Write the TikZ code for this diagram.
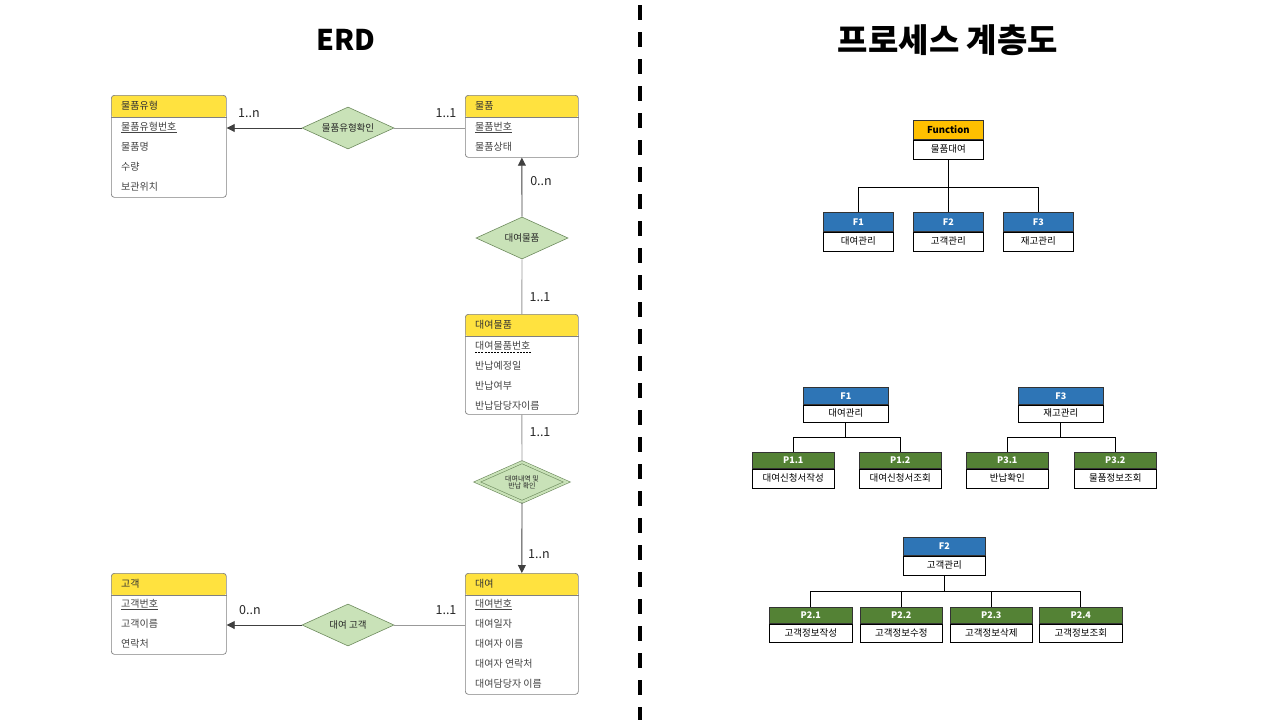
\documentclass[tikz,border=0pt]{standalone}
\usepackage{fontspec}
\setmainfont{Noto Sans CJK KR}
\usetikzlibrary{shapes.geometric,arrows.meta,calc}
\definecolor{hdr}{HTML}{FFE23F}
\definecolor{ebd}{HTML}{808080}
\definecolor{etx}{HTML}{444444}
\definecolor{lin}{HTML}{999999}
\definecolor{arc}{HTML}{404040}
\definecolor{relf}{HTML}{C9E2B8}
\definecolor{relb}{HTML}{6E8B5E}
\definecolor{fnc}{HTML}{FFC000}
\definecolor{blu}{HTML}{2E75B6}
\definecolor{grn}{HTML}{548235}
\newcommand\entity[6]{%
  \node[ebox, minimum width=#4pt, minimum height=#5pt, anchor=north west] (#1) at (#2,#3) {};
  \draw[ebd, line width=0.7pt] ([yshift=-22pt]#1.north west) -- ([yshift=-22pt]#1.north east);
  \node[etext, text=black!80, anchor=west] (#1-hd) at ([xshift=10pt,yshift=-11pt]#1.north west) {#6};
}
\newcommand\erow[4]{%
  \node[etext, anchor=west] (#1) at ([xshift=10pt,yshift=-#3pt]#2.north west) {#4};
}
\newcommand\pbox[9]{%
  \node[phead, #7, minimum width=#4pt, minimum height=#5pt, anchor=north west] (#1h) at (#2,#3) {#8};
  \node[pbody, minimum width=#4pt, minimum height=#6pt, anchor=north] (#1) at (#1h.south) {#9};
}
\tikzset{
  ebox/.style={draw=ebd, line width=0.7pt, rounded corners=3pt, inner sep=0pt,
    path picture={\fill[hdr] (path picture bounding box.north west) rectangle ([yshift=-22pt]path picture bounding box.north east);}},
  etext/.style={font=\fontsize{10}{11}\selectfont, text=etx, inner xsep=0pt, inner ysep=1pt},
  card/.style={font=\fontsize{12.5}{14}\selectfont, text=black!85, inner sep=0pt},
  rel/.style={diamond, draw=relb, fill=relf, line width=0.6pt, inner sep=0pt, aspect=2.2,
    minimum width=92pt, minimum height=42pt, font=\fontsize{9.5}{10}\selectfont, text=black!85},
  conn/.style={draw=lin, line width=0.9pt},
  arr/.style={-{Triangle[length=8pt,width=8pt]}, arc},
  phead/.style={draw=black!80, line width=0.6pt, inner sep=0pt, text=white, font=\bfseries\fontsize{9}{10}\selectfont},
  pbody/.style={draw=black, line width=0.6pt, fill=white, inner sep=0pt, font=\fontsize{9.5}{10}\selectfont},
  tree/.style={draw=black, line width=0.9pt},
  ttl/.style={font=\bfseries\fontsize{28.5}{32}\selectfont}
}
\begin{document}
\begin{tikzpicture}[x=1pt,y=-1pt]
\path[use as bounding box, fill=white] (0,0) rectangle (1280,720);
% titles
\node[ttl] (t1) at (346,40) {ERD};
\node[ttl, font=\bfseries\fontsize{33}{36}\selectfont] (t2) at (948,40) {프로세스 계층도};
% divider
\draw[line width=3.5pt, dash pattern=on 15pt off 12pt] (640,5) -- (640,720);
% ===== ERD entities =====
\entity{mpt}{111}{95}{115}{102}{물품유형}
\erow{a1}{mpt}{32}{물품유형번호}
\erow{a2}{mpt}{52}{물품명}
\erow{a3}{mpt}{72}{수량}
\erow{a4}{mpt}{92}{보관위치}
\draw[etx, line width=0.6pt] ([yshift=-2pt]a1.base west) -- ([yshift=-2pt]a1.base east);
\entity{mp}{465}{95}{113}{62}{물품}
\erow{b1}{mp}{32}{물품번호}
\erow{b2}{mp}{52}{물품상태}
\draw[etx, line width=0.6pt] ([yshift=-2pt]b1.base west) -- ([yshift=-2pt]b1.base east);
\entity{dm}{465}{314}{113}{100}{대여물품}
\erow{c1}{dm}{32}{대여물품번호}
\erow{c2}{dm}{52}{반납예정일}
\erow{c3}{dm}{72}{반납여부}
\erow{c4}{dm}{92}{반납담당자이름}
\draw[black, line width=0.7pt, dash pattern=on 2pt off 1.2pt] ([yshift=-2.5pt]c1.base west) -- ([yshift=-2.5pt]c1.base east);
\entity{cu}{111}{573}{115}{81}{고객}
\erow{d1}{cu}{31}{고객번호}
\erow{d2}{cu}{51}{고객이름}
\erow{d3}{cu}{71}{연락처}
\draw[etx, line width=0.6pt] ([yshift=-2pt]d1.base west) -- ([yshift=-2pt]d1.base east);
\entity{dy}{465}{573}{113}{121}{대여}
\erow{e1}{dy}{31}{대여번호}
\erow{e2}{dy}{51}{대여일자}
\erow{e3}{dy}{71}{대여자 이름}
\erow{e4}{dy}{91}{대여자 연락처}
\erow{e5}{dy}{111}{대여담당자 이름}
\draw[etx, line width=0.6pt] ([yshift=-2pt]e1.base west) -- ([yshift=-2pt]e1.base east);
% relationships
\node[rel] (r1) at (348,128) {물품유형확인};
\node[rel] (r2) at (522,238) {대여물품};
\node[rel, minimum width=90pt, minimum height=40pt, double=relf, double distance=2.2pt, font=\fontsize{7}{8}\selectfont, align=center] (r3) at (522,482) {대여내역 및\\[-1pt]반납 확인};
\node[rel] (r4) at (348,625) {대여 고객};
% connectors
\draw[conn] (mp.west |- r1) -- (r1.east);
\draw[conn, arr] (r1.west) -- (r1 -| mpt.east);
\draw[conn] (dm.north) -- (r2.south);
\draw[conn, arr] (r2.north) -- (mp.south);
\draw[conn] (dm.south) -- (r3.north);
\draw[conn, arr] (r3.south) -- (dy.north);
\draw[conn] (dy.west |- r4) -- (r4.east);
\draw[conn, arr] (r4.west) -- (r4 -| cu.east);
% cardinalities
\node[card] (k1) at (249,113) {1..n};
\node[card] (k2) at (446,113) {1..1};
\node[card] (k3) at (541,181) {0..n};
\node[card] (k4) at (540,297) {1..1};
\node[card] (k5) at (540,432) {1..1};
\node[card] (k6) at (539,554) {1..n};
\node[card] (k7) at (250,610) {0..n};
\node[card] (k8) at (446,610) {1..1};
% ===== hierarchy =====
\pbox{fn}{913}{120}{70}{19}{19}{fill=fnc, text=black, font=\bfseries\fontsize{9.5}{10}\selectfont}{Function}{물품대여}
\pbox{f1}{823}{212}{70}{19}{19}{fill=blu}{F1}{대여관리}
\pbox{f2}{913}{212}{70}{19}{19}{fill=blu}{F2}{고객관리}
\pbox{f3}{1003}{212}{70}{19}{19}{fill=blu}{F3}{재고관리}
\draw[tree] (fn.south) -- ++(0,28) coordinate (j0);
\draw[tree] (f1h.north) |- (j0) -| (f3h.north);
\draw[tree] (j0) -- (f2h.north);
% F1 / F3 subtrees
\pbox{s1}{803}{387}{85}{17}{17}{fill=blu}{F1}{대여관리}
\pbox{s3}{1018}{387}{85}{17}{17}{fill=blu}{F3}{재고관리}
\pbox{p11}{752}{452}{82}{16}{19}{fill=grn}{P1.1}{대여신청서작성}
\pbox{p12}{859}{452}{82}{16}{19}{fill=grn}{P1.2}{대여신청서조회}
\pbox{p31}{966}{452}{82}{16}{19}{fill=grn}{P3.1}{반납확인}
\pbox{p32}{1074}{452}{82}{16}{19}{fill=grn}{P3.2}{물품정보조회}
\draw[tree] (s1.south) -- ++(0,15) coordinate (j1);
\draw[tree] (p11h.north) |- (j1) -| (p12h.north);
\draw[tree] (s3.south) -- ++(0,15) coordinate (j3);
\draw[tree] (p31h.north) |- (j3) -| (p32h.north);
% F2 subtree
\pbox{s2}{903}{537}{82}{18}{19}{fill=blu}{F2}{고객관리}
\pbox{p21}{769}{607}{83}{16}{18}{fill=grn}{P2.1}{고객정보작성}
\pbox{p22}{860}{607}{82}{16}{18}{fill=grn}{P2.2}{고객정보수정}
\pbox{p23}{950}{607}{82}{16}{18}{fill=grn}{P2.3}{고객정보삭제}
\pbox{p24}{1039}{607}{83}{16}{18}{fill=grn}{P2.4}{고객정보조회}
\draw[tree] (s2.south) -- ++(0,16) coordinate (j2);
\draw[tree] (p21h.north) |- (j2) -| (p24h.north);
\draw[tree] (p22h.north) |- (j2);
\draw[tree] (p23h.north) |- (j2);
\end{tikzpicture}
\end{document}
